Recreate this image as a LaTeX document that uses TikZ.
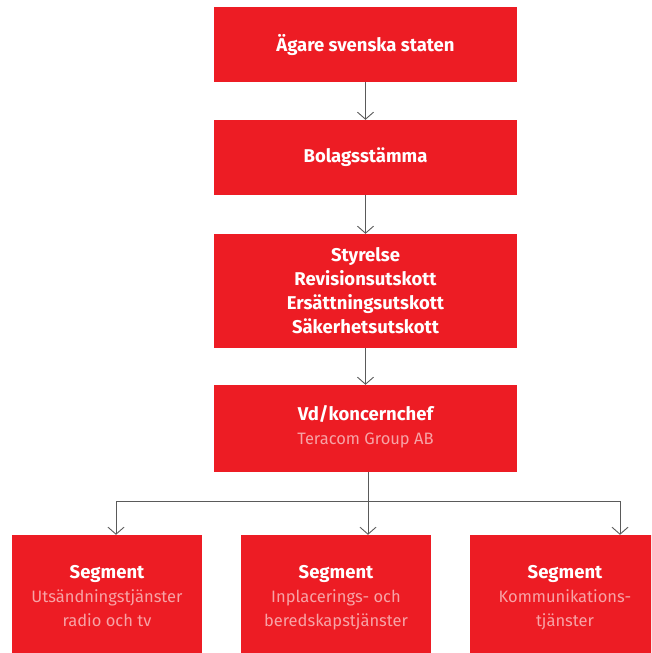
\documentclass[tikz,border=0pt]{standalone}
\usepackage{fontspec}
\setmainfont{Fira Sans}
\usepackage{tikz}
\usetikzlibrary{arrows.meta, positioning}
\usepackage{xcolor}
\definecolor{boxred}{HTML}{ED1C24}
\definecolor{lightpink}{HTML}{F7A3A6}
\definecolor{linegray}{HTML}{5A5A5A}
\newcommand{\sub}[1]{{\color{lightpink}\fontsize{16.5}{24}\selectfont\mdseries\strut #1}}

\begin{document}
\begin{tikzpicture}[
x=1pt, y=-1pt,
>={Straight Barb[length=7pt,width=16pt]},
box/.style={fill=boxred, text=white, font=\fontsize{18.5}{24}\selectfont\bfseries,
  align=center, inner sep=0pt, minimum width=303pt},
seg/.style={box, minimum width=190pt, minimum height=126pt},
conn/.style={draw=linegray, line width=0.9pt},
]
\useasboundingbox (0,0) rectangle (651,653);
\clip (0,0) rectangle (651,653);
%% management chain
% nodes
\node[box, minimum height=75pt] (owner) at (365.5,44.5) {Ägare svenska staten};
\node[box, minimum height=75pt] (meeting) at (365.5,157.5) {Bolagsstämma};
\node[box, minimum height=114pt] (board) at (365.5,291) {Styrelse\\Revisionsutskott\\Ersättningsutskott\\Säkerhetsutskott};
\node[box, minimum height=87pt] (ceo) at (365.5,428.5) {Vd/koncernchef\\\sub{Teracom Group AB}};
% arrows
\draw[conn,->] (owner) -- (meeting);
\draw[conn,->] (meeting) -- (board);
\draw[conn,->] (board) -- (ceo);

%% segments
% nodes
\node[seg] (radio) at (107,598) {\strut Segment\\\sub{Utsändningstjänster}\\\sub{radio och tv}};
\node[seg] (place) at (336,598) {\strut Segment\\\sub{Inplacerings- och}\\\sub{beredskapstjänster}};
\node[seg] (comm) at (565,598) {\strut Segment\\\sub{Kommunikations-}\\\sub{tjänster}};
\coordinate (jleft) at (116,501);
\coordinate (jmid) at (368,501);
\coordinate (jright) at (620,501);
% arrows
\draw[conn] (ceo.south -| jmid) -- (jmid);
\draw[conn] (jleft) -- (jright);
\draw[conn,->] (jleft) -- (jleft |- radio.north);
\draw[conn,->] (jmid) -- (jmid |- place.north);
\draw[conn,->] (jright) -- (jright |- comm.north);
\end{tikzpicture}
\end{document}
